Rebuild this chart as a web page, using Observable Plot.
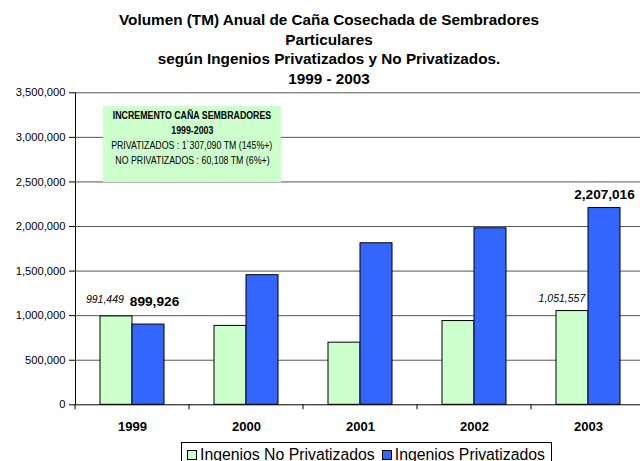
<!DOCTYPE html>
<html>
<head>
<meta charset="utf-8">
<script src="https://cdn.jsdelivr.net/npm/d3@7"></script>
<script src="https://cdn.jsdelivr.net/npm/@observablehq/plot@0.6"></script>
<style>
  body { margin: 0; background: #fff; }
  #wrap { position: relative; width: 640px; height: 461px; overflow: hidden; background: #fff;
          font-family: "Liberation Sans", Arial, sans-serif; color: #000; }
  #chart { position: absolute; left: 0; top: 0; width: 645px; }
  #chart svg { max-width: none !important; }
  #title { position: absolute; left: 9px; top: 10px; width: 640px; text-align: center;
           font-weight: bold; font-size: 15.3px; line-height: 19.5px; }
  #note { position: absolute; left: 103px; top: 106px; width: 178px; height: 76px;
          background: #ccffcc; box-sizing: border-box; padding-top: 1.5px;
          font-size: 11px; line-height: 15px; color: #000; }
  #note div { display: flex; justify-content: center; white-space: nowrap; }
  #note span { display: inline-block; flex: none; transform: scaleX(0.8); transform-origin: center; }
  #note .b { font-weight: bold; }
  #legend { position: absolute; left: 181px; top: 442px; border: 1px solid #000; background: #fff;
            padding: 3px 6px 6px 5px; font-size: 15.8px; line-height: 18px; white-space: nowrap; }
  #legend .sw { display: inline-block; width: 8px; height: 8px; border: 1px solid #000;
                margin-right: 3px; vertical-align: 0px; }
  #legend .item { display: inline-block; }
  #legend .item + .item { margin-left: 7px; }
</style>
</head>
<body>
<div id="wrap">
  <div id="chart"></div>
  <div id="title"></div>
  <div id="note"></div>
  <div id="legend"></div>
</div>
<script>
const titleLines = [
  "Volumen (TM) Anual de Caña Cosechada de Sembradores",
  "Particulares",
  "según Ingenios Privatizados y No Privatizados.",
  "1999 - 2003"
];
const years = ["1999", "2000", "2001", "2002", "2003"];
const series = ["Ingenios No Privatizados", "Ingenios Privatizados"];
const noPrivatizados = [991449, 885000, 697000, 939500, 1051557];
const privatizados = [899926, 1454000, 1812000, 1980000, 2207016];
const yTicks = [0, 500000, 1000000, 1500000, 2000000, 2500000, 3000000, 3500000];
const colors = ["#ccffcc", "#3366ff"];
const noteLines = [
  {text: "INCREMENTO CAÑA SEMBRADORES", bold: true},
  {text: "1999-2003", bold: true},
  {text: "PRIVATIZADOS : 1´307,090 TM (145%+)", bold: false},
  {text: "NO PRIVATIZADOS : 60,108 TM (6%+)", bold: false}
];

const data = years.flatMap((y, i) => [
  {year: y, series: series[0], value: noPrivatizados[i]},
  {year: y, series: series[1], value: privatizados[i]}
]);
const fmt = d3.format(",");
const pick = (yr, s) => data.filter(d => d.year === yr && d.series === series[s]);

document.getElementById("title").innerHTML = titleLines.map(t => `<div>${t}</div>`).join("");
document.getElementById("note").innerHTML = noteLines.map(l => `<div class="${l.bold ? "b" : ""}"><span>${l.text}</span></div>`).join("");
document.getElementById("legend").innerHTML = series.map((s, i) =>
  `<span class="item"><span class="sw" style="background:${colors[i]}"></span>${s}</span>`).join("");

const plot = Plot.plot({
  width: 645,
  height: 461,
  marginLeft: 74,
  marginRight: 0,
  marginTop: 92.3,
  marginBottom: 56.7,
  style: {fontFamily: "'Liberation Sans', Arial, sans-serif", fontSize: "11.2px", color: "#000", background: "transparent", overflow: "visible", maxWidth: "none"},
  fx: {domain: years, padding: 0, axis: null, label: null},
  x: {domain: series, paddingInner: 0, paddingOuter: 0.745, axis: null},
  y: {domain: [0, 3500000], ticks: yTicks, tickFormat: fmt, tickSize: 6, tickPadding: 4, label: null, line: true},
  color: {domain: series, range: colors},
  marks: [
    Plot.ruleY(yTicks.slice(1), {stroke: "#555", strokeWidth: 1}),
    Plot.barY(data, {fx: "year", x: "series", y: "value", fill: "series", stroke: "#000", strokeWidth: 1}),
    Plot.ruleY([0], {stroke: "#000", strokeWidth: 1}),
    Plot.text(years, {fx: d => d, text: d => d, frameAnchor: "bottom", lineAnchor: "middle", dy: 22.4, fontWeight: "bold", fontSize: 13}),
    Plot.text(pick("1999", 1), {fx: "year", x: "series", y: "value", text: d => fmt(d.value), fontWeight: "bold", fontSize: 13.7, dx: 6, dy: -23.4}),
    Plot.text(pick("2003", 1), {fx: "year", x: "series", y: "value", text: d => fmt(d.value), fontWeight: "bold", fontSize: 13.6, dy: -13.7}),
    Plot.text(pick("1999", 0), {fx: "year", x: "series", y: "value", text: d => fmt(d.value), fontStyle: "italic", fontSize: 10.5, textAnchor: "end", dx: 7.4, dy: -16.7}),
    Plot.text(pick("2003", 0), {fx: "year", x: "series", y: "value", text: d => fmt(d.value), fontStyle: "italic", fontSize: 10.5, textAnchor: "end", dx: 12.8, dy: -12.4})
  ]
});

// category boundary tick marks below the x axis, placed with the library's scales
const fxs = plot.scale("fx");
const ys = plot.scale("y");
const y0 = ys.apply(0);
const bounds = years.map(y => fxs.apply(y));
bounds.push(fxs.apply(years[years.length - 1]) + fxs.bandwidth);
d3.select(plot).append("g").selectAll("line").data(bounds).join("line")
  .attr("x1", d => d).attr("x2", d => d).attr("y1", y0).attr("y2", y0 + 5)
  .attr("stroke", "#000");

document.getElementById("chart").appendChild(plot);
</script>
</body>
</html>
